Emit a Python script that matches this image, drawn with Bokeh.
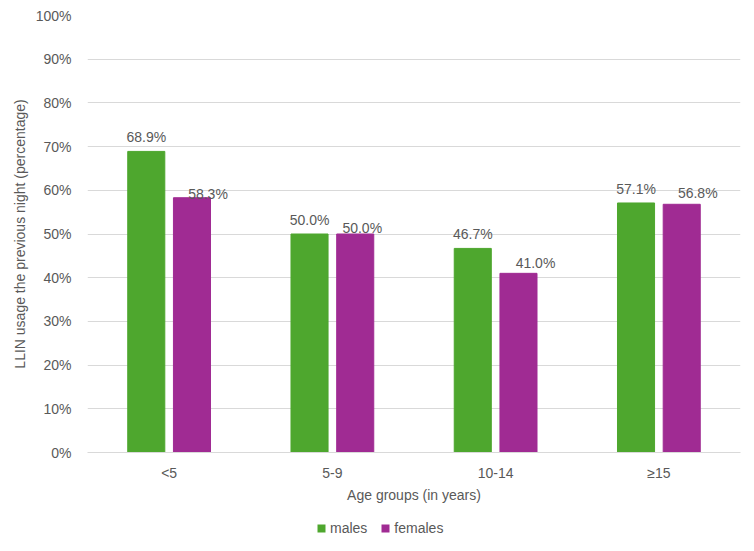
from bokeh.plotting import figure
from bokeh.layouts import column
from bokeh.models import ColumnDataSource, Legend, LegendItem, FixedTicker, CustomJSTickFormatter
from bokeh.transform import dodge
from bokeh.core.properties import value
from bokeh.embed import file_html
from bokeh.resources import INLINE

# LLIN usage the previous night by age group and sex (%)
age_groups = ["<5", "5-9", "10-14", "≥15"]
males = [68.9, 50.0, 46.7, 57.1]
females = [58.3, 50.0, 41.0, 56.8]
y_ticks = [0, 10, 20, 30, 40, 50, 60, 70, 80, 90, 100]
series_names = ["males", "females"]

GREEN = "#4EA72E"
PURPLE = "#A02B93"
TEXT = "#595959"
GRID = "#d9d9d9"
FONT = "Liberation Sans"
FS = "14px"

# small pixel nudges for the female data labels
female_dx = [16, 7, 17, 16]
female_dy = [-4, -6, -10, -11]

src = ColumnDataSource(dict(
    age=age_groups,
    males=males,
    females=females,
    m_lab=[f"{v:.1f}%" for v in males],
    f_lab=[f"{v:.1f}%" for v in females],
    f_dx=female_dx,
    f_dy=female_dy,
))

p = figure(
    x_range=age_groups, y_range=(0, 100),
    width=754, height=510,
    frame_width=653, frame_height=437,
    min_border_left=87, min_border_right=14, min_border_top=15, min_border_bottom=58,
    output_backend="svg", toolbar_location=None,
    background_fill_color="white", border_fill_color="white",
)
p.outline_line_color = None

off = 0.14
bw = 0.227
p.vbar(x=dodge("age", -off, range=p.x_range), top="males", width=bw, source=src,
       fill_color=GREEN, line_color=GREEN)
p.vbar(x=dodge("age", off, range=p.x_range), top="females", width=bw, source=src,
       fill_color=PURPLE, line_color=PURPLE)

p.text(x=dodge("age", -off, range=p.x_range), y="males", text="m_lab", source=src,
       text_align="center", text_baseline="middle", y_offset=-14,
       text_font=value(FONT), text_font_size=FS, text_color=TEXT)
p.text(x=dodge("age", off, range=p.x_range), y="females", text="f_lab", source=src,
       text_align="center", text_baseline="middle", x_offset="f_dx", y_offset="f_dy",
       text_font=value(FONT), text_font_size=FS, text_color=TEXT)

# y axis
ya = p.yaxis[0]
ya.ticker = FixedTicker(ticks=y_ticks)
ya.formatter = CustomJSTickFormatter(code="return tick.toFixed(0) + '%';")
ya.axis_line_color = None
ya.major_tick_line_color = None
ya.minor_tick_line_color = None
ya.major_label_standoff = 10
ya.major_label_text_font = FONT
ya.major_label_text_font_size = FS
ya.major_label_text_color = TEXT
ya.axis_label = "LLIN usage the previous night (percentage)"
ya.axis_label_standoff = 5
ya.axis_label_text_font = FONT
ya.axis_label_text_font_size = FS
ya.axis_label_text_font_style = "normal"
ya.axis_label_text_color = TEXT

# x axis
xa = p.xaxis[0]
xa.axis_line_color = GRID
xa.major_tick_line_color = None
xa.minor_tick_line_color = None
xa.major_label_standoff = 6
xa.major_label_text_font = FONT
xa.major_label_text_font_size = FS
xa.major_label_text_color = TEXT
xa.axis_label = "Age groups (in years)"
xa.axis_label_standoff = 3
xa.axis_label_text_font = FONT
xa.axis_label_text_font_size = FS
xa.axis_label_text_font_style = "normal"
xa.axis_label_text_color = TEXT

p.xgrid.grid_line_color = None
p.ygrid.grid_line_color = GRID
p.ygrid.grid_line_width = 1

# legend strip below the chart; zero-width proxy bars carry the swatch colours
lg = figure(
    width=754, height=41, x_range=(0, 1), y_range=(0, 1),
    min_border_left=0, min_border_right=0, min_border_top=0, min_border_bottom=5,
    output_backend="svg", toolbar_location=None,
    background_fill_color="white", border_fill_color="white",
)
lg.axis.visible = False
lg.grid.visible = False
lg.outline_line_color = None
sw_m = lg.vbar(x=[0], top=[0], width=0, fill_color=GREEN, line_color=GREEN, line_alpha=0)
sw_f = lg.vbar(x=[0], top=[0], width=0, fill_color=PURPLE, line_color=PURPLE, line_alpha=0)
legend = Legend(
    items=[LegendItem(label=series_names[0], renderers=[sw_m]),
           LegendItem(label=series_names[1], renderers=[sw_f])],
    orientation="horizontal", location=(229, 10),
    border_line_color=None, background_fill_alpha=0,
    label_text_font=FONT, label_text_font_size=FS, label_text_color=TEXT,
    glyph_width=10, glyph_height=10, label_standoff=4, spacing=13,
    margin=0, padding=0,
)
lg.add_layout(legend, "center")

page = column(p, lg, spacing=0)

open("out.html", "w").write(file_html(page, INLINE))
